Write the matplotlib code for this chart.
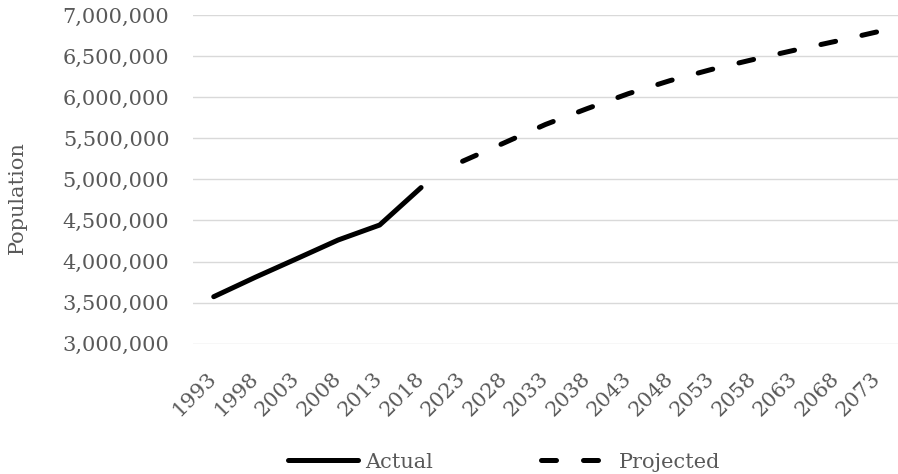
import numpy as np
import matplotlib.pyplot as plt
from matplotlib.ticker import FuncFormatter

# Population figures, actual and projected
years = ['1993', '1998', '2003', '2008', '2013', '2018', '2023', '2028', '2033',
         '2038', '2043', '2048', '2053', '2058', '2063', '2068', '2073']
actual_years = ['1993', '1998', '2003', '2008', '2013', '2018']
actual_pop = [3572000, 3808000, 4034000, 4262000, 4444000, 4900000]
projected_years = ['2023', '2028', '2033', '2038', '2043', '2048', '2053',
                   '2058', '2063', '2068', '2073']
projected_pop = [5220000, 5443000, 5668000, 5860000, 6043000, 6201000,
                 6337000, 6457000, 6571000, 6680000, 6795000]

plt.rcParams['font.family'] = ['DejaVu Serif']
text_color = '#595959'

fig = plt.figure(figsize=(8.98, 4.74), dpi=100)
ax = fig.add_axes([193 / 898, 1 - 343.7 / 474, 1 - 193 / 898, (343.7 - 15) / 474])

pos = {y: i for i, y in enumerate(years)}
ax.plot([pos[y] for y in actual_years], actual_pop, color='black', lw=3.6,
        solid_capstyle='round', solid_joinstyle='round', label='Actual')
ax.plot([pos[y] for y in projected_years], projected_pop, color='black', lw=3.6,
        dashes=(3.0, 5.4), dash_capstyle='round', label='Projected')

ax.set_xlim(-0.5, len(years) - 0.5)
ax.set_ylim(3000000, 7000000)
ax.set_yticks(np.arange(3000000, 7000001, 500000))
ax.yaxis.set_major_formatter(FuncFormatter(lambda v, p: f'{int(v):,}'))
ax.set_xticks(range(len(years)))
ax.set_xticklabels(years, rotation=45, ha='right', va='center',
                   rotation_mode='anchor', fontsize=15)

ax.grid(axis='y', color='#d9d9d9', lw=1.0)
ax.set_axisbelow(True)
for s in ax.spines.values():
    s.set_visible(False)
ax.tick_params(axis='both', length=0, labelcolor=text_color)
ax.tick_params(axis='y', pad=17, labelsize=15)
ax.tick_params(axis='x', pad=23)

fig.text(17.5 / 898, 1 - 197.5 / 474, 'Population', rotation=90, ha='center',
         va='center', fontsize=15, color=text_color)

fig.legend(loc='center', bbox_to_anchor=(504 / 898, 1 - 462 / 474), ncol=2,
           frameon=False, fontsize=15, handlelength=3.4, handletextpad=0.33,
           columnspacing=5.2, labelcolor=text_color)

fig.savefig('out.png', dpi=100)
